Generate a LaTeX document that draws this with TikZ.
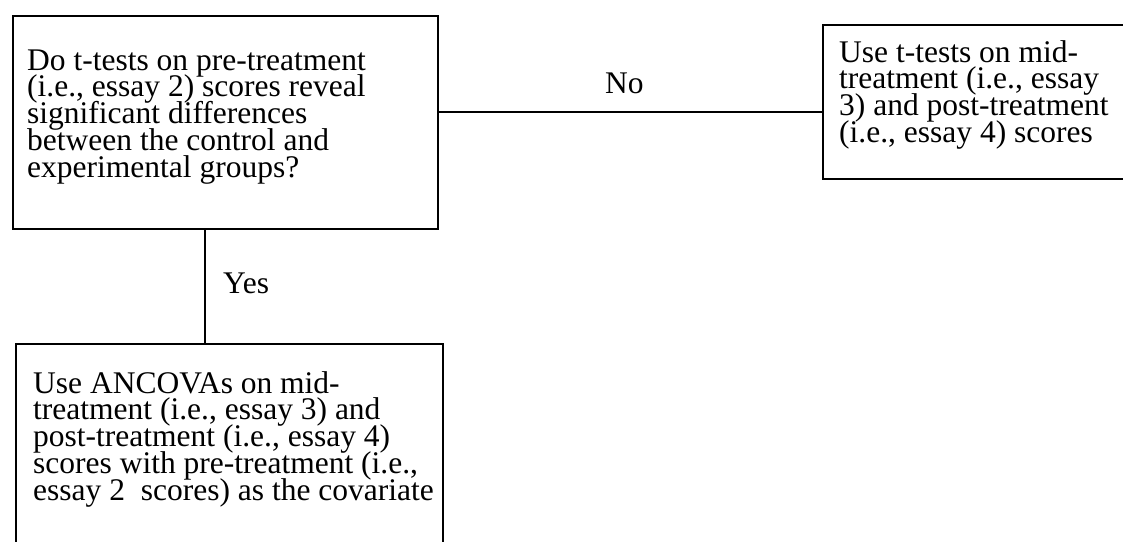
\documentclass[tikz,border=0pt]{standalone}
\usepackage{fontspec}
\setmainfont{Liberation Serif}
\newcommand\tlines[1]{\vtop{\baselineskip=26.8pt\lineskiplimit=-16000pt\lineskip=0pt\halign{##\hfil\cr#1\crcr}}}
\tikzset{
  box/.style={draw, line width=1.5pt, inner sep=0pt, anchor=north west},
  txt/.style={anchor=base west, inner sep=0pt, font=\fontsize{31.5}{26.8}\selectfont},
  conn/.style={line width=1.5pt}
}
\begin{document}
\begin{tikzpicture}[x=1pt,y=-1pt]
\useasboundingbox (0,0) rectangle (1123,541);
\clip (0,0) rectangle (1123,541);
\fill[white] (0,0) rectangle (1123,541);
% boxes
\node[box, minimum width=425pt, minimum height=213pt] (q) at (12,15) {};
\node[box, minimum width=427pt, minimum height=240pt] (anc) at (15,343) {};
\node[box, minimum width=330pt, minimum height=154pt] (tt) at (822,24) {};
% texts
\node[txt] (qt) at (27,70) {\tlines{Do t-tests on pre-treatment\cr (i.e., essay 2) scores reveal\cr significant differences\cr between the control and\cr experimental groups?}};
\node[txt] (anct) at (33,393) {\tlines{Use ANCOVAs on mid-\cr treatment (i.e., essay 3) and\cr post-treatment (i.e., essay 4)\cr scores with pre-treatment (i.e.,\cr essay 2\ \ scores) as the covariate}};
\node[txt] (ttt) at (839,62) {\tlines{Use t-tests on mid-\cr treatment (i.e., essay\cr 3) and post-treatment\cr (i.e., essay 4) scores}};
% connectors
\coordinate (h) at (0,112);
\coordinate (v) at (205,0);
\draw[conn] (q.east |- h) -- (tt.west |- h);
\draw[conn] (q.south -| v) -- (anc.north -| v);
% labels
\node[txt] (no) at (605,93) {No};
\node[txt] (yes) at (223,293) {Yes};
\end{tikzpicture}
\end{document}
